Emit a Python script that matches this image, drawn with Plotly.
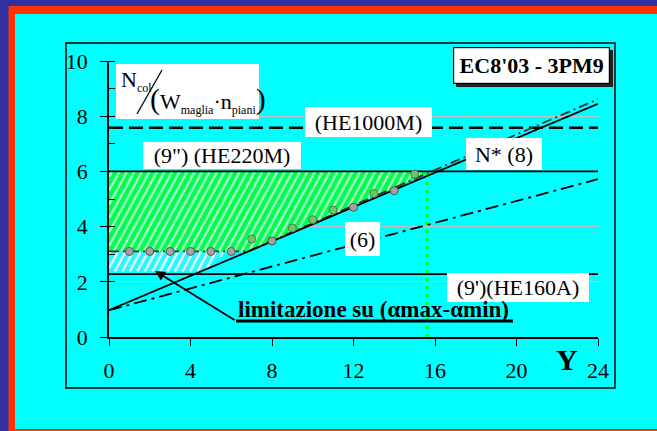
import plotly.graph_objects as go

# ---------------------------------------------------------------- data
storeys = list(range(1, 16))                       # Y
ratio_pts = [3.1, 3.1, 3.1, 3.1, 3.1, 3.1, 3.55, 3.48,
             3.95, 4.25, 4.6, 4.7, 5.2, 5.3, 5.9]   # N_col / (W_maglia * n_piani)

he1000m = 7.58          # (HE1000M)
he220m = 6.0            # (9") (HE220M)
he160a = 2.28           # (9')(HE160A)

nstar_x = [0, 24]       # N* (8)
nstar_y = [0.97, 8.45]
upper_x = [0, 6.8, 24]  # dash-dot bound
upper_y = [3.1, 3.1, 8.62]
eq6_x = [0, 24]         # (6)
eq6_y = [0.97, 5.72]
y_limit = 15.6          # vertical marker

band_x = [0, 4.6, 5.8, 0]        # lower (alpha max - alpha min) band
band_y = [2.38, 2.38, 3.1, 3.1]

x_ticks = [0, 4, 8, 12, 16, 20, 24]
y_ticks = [0, 2, 4, 6, 8, 10]

# ---------------------------------------------------------------- layout helpers
W, H = 657, 431
L, R, T, B = 109, 59, 61, 94
PW, PH = W - L - R, H - T - B
FONT = "Liberation Serif, Times New Roman, DejaVu Serif, serif"


def fx(p):
    return (p - L) / PW


def fy(p):
    return (H - B - p) / PH


def interp(x, xs, ys):
    for i in range(len(xs) - 1):
        if xs[i] <= x <= xs[i + 1]:
            t = (x - xs[i]) / (xs[i + 1] - xs[i])
            return ys[i] + t * (ys[i + 1] - ys[i])
    return ys[-1]


def inv_interp(y, xs, ys):
    for i in range(len(xs) - 1):
        if ys[i] != ys[i + 1] and min(ys[i], ys[i + 1]) <= y <= max(ys[i], ys[i + 1]):
            t = (y - ys[i]) / (ys[i + 1] - ys[i])
            return xs[i] + t * (xs[i + 1] - xs[i])
    return xs[-1]


def region(fig, xs, ys, base):
    xs, ys = list(xs) + [xs[0]], list(ys) + [ys[0]]
    fig.add_trace(go.Scatter(x=xs, y=ys, mode="lines", fill="toself",
                             line=dict(width=0), fillcolor=base,
                             hoverinfo="skip", showlegend=False))


def stripes(fig, xs, ys, color, spacing=0.5):
    """Diagonal hatching clipped to a convex polygon (data units)."""
    n = len(xs)
    k = (PH / 10) / (PW / 24)          # 45 degrees on screen
    cmin = min(y - x * k for x, y in zip(xs, ys))
    cmax = max(y - x * k for x, y in zip(xs, ys))
    lx, ly = [], []
    c = cmin + spacing / 2
    while c < cmax:
        pts = []
        for i in range(n):
            x0, y0 = xs[i], ys[i]
            x1, y1 = xs[(i + 1) % n], ys[(i + 1) % n]
            f0 = y0 - k * x0 - c
            f1 = y1 - k * x1 - c
            if f0 == f1:
                continue
            t = f0 / (f0 - f1)
            if 0 <= t <= 1:
                pts.append((x0 + t * (x1 - x0), y0 + t * (y1 - y0)))
        if len(pts) >= 2:
            pts.sort()
            lx += [pts[0][0], pts[-1][0], None]
            ly += [pts[0][1], pts[-1][1], None]
        c += spacing
    fig.add_trace(go.Scatter(x=lx, y=ly, mode="lines",
                             line=dict(color=color, width=2.4),
                             hoverinfo="skip", showlegend=False))


fig = go.Figure()

# hatched admissible region between the dash-dot bound and HE220M
x_top = inv_interp(he220m, upper_x, upper_y)
green_x = [0, x_top, upper_x[1], 0]
green_y = [he220m, he220m, upper_y[1], upper_y[0]]
region(fig, green_x, green_y, "#00FF4A")
stripes(fig, green_x, green_y, "#9CFFC8")
region(fig, band_x, band_y, "#30F4FF")
stripes(fig, band_x, band_y, "#D8FFFF")

# horizontal section levels
for lvl, dash, wd in [(he1000m, "14px,6px", 2.6), (he220m, "solid", 1.8),
                      (he160a, "solid", 1.8)]:
    fig.add_trace(go.Scatter(x=[0, 24], y=[lvl, lvl], mode="lines",
                             line=dict(color="black", width=wd, dash=dash),
                             hoverinfo="skip", showlegend=False))

# vertical marker
fig.add_trace(go.Scatter(x=[y_limit, y_limit], y=[0, he220m], mode="lines",
                         line=dict(color="#00FF00", width=3, dash="3px,5px"),
                         hoverinfo="skip", showlegend=False))

# N* (8), dash-dot bound and (6)
fig.add_trace(go.Scatter(x=eq6_x, y=eq6_y, mode="lines",
                         line=dict(color="black", width=1.8, dash="13px,5px,3px,5px"),
                         hoverinfo="skip", showlegend=False))
fig.add_trace(go.Scatter(x=upper_x, y=upper_y, mode="lines",
                         line=dict(color="#333333", width=1.8, dash="10px,4px,2px,4px"),
                         hoverinfo="skip", showlegend=False))
fig.add_trace(go.Scatter(x=nstar_x, y=nstar_y, mode="lines",
                         line=dict(color="black", width=1.8),
                         hoverinfo="skip", showlegend=False))

# computed points: inside the hatched area they read green
fills, edges = [], []
for xv, yv in zip(storeys, ratio_pts):
    inside = yv > interp(xv, upper_x, upper_y) + 0.05
    fills.append("#6DC86A" if inside else "#A3A3A3")
    edges.append("#4F7A4F" if inside else "#555555")
fig.add_trace(go.Scatter(x=storeys, y=ratio_pts, mode="markers",
                         marker=dict(size=8, color=fills,
                                     line=dict(color=edges, width=1)),
                         hoverinfo="skip", showlegend=False, cliponaxis=False))

# ---------------------------------------------------------------- shapes
shapes = [
    dict(type="rect", xref="paper", yref="paper", layer="below",
         x0=fx(8.5), x1=fx(W + 5), y0=fy(H + 5), y1=fy(6),
         fillcolor="#FF3300", line=dict(width=0)),
    dict(type="rect", xref="paper", yref="paper", layer="below",
         x0=fx(15), x1=fx(W + 5), y0=fy(429), y1=fy(14),
         fillcolor="#00FFFF", line=dict(width=0)),
    dict(type="rect", xref="paper", yref="paper", layer="below",
         x0=fx(66), x1=fx(615), y0=fy(388), y1=fy(43),
         line=dict(color="black", width=1.5)),
    # white box for the axis quantity
    dict(type="rect", xref="paper", yref="paper", layer="above",
         x0=fx(116), x1=fx(259), y0=fy(119), y1=fy(64),
         fillcolor="white", line=dict(width=0)),
    dict(type="line", xref="paper", yref="paper", layer="above",
         x0=fx(137), y0=fy(114), x1=fx(162), y1=fy(70),
         line=dict(color="black", width=1.3)),
    # shadow under the title box
    dict(type="rect", xref="paper", yref="paper", layer="above",
         x0=fx(456), x1=fx(613), y0=fy(87), y1=fy(50),
         fillcolor="#222222", line=dict(width=0)),
    # underline of the note
    dict(type="line", xref="paper", yref="paper", layer="above",
         x0=fx(236), x1=fx(513), y0=fy(321), y1=fy(321),
         line=dict(color="black", width=3)),
]


def box(text, cx, cy, w, h, size=22, bold=False, border=0):
    return dict(text=f"<b>{text}</b>" if bold else text,
                xref="paper", yref="paper", x=fx(cx), y=fy(cy),
                xanchor="center", yanchor="middle", showarrow=False,
                bgcolor="white", width=w, height=h, borderpad=0,
                bordercolor="black", borderwidth=border,
                font=dict(family=FONT, size=size, color="black"))


SUB = "<sub><span style='font-size:12px'>{}</span></sub>"
PAREN = "<span style='font-size:30px'>{}</span>"

annotations = [
    box("(HE1000M)", 368.5, 122, 127, 30),
    box("(9\") (HE220M)", 222, 155.5, 158, 27),
    box("N* (8)", 504, 154, 76, 32),
    box("(6)", 362.5, 239, 35, 34),
    box("(9')(HE160A)", 518, 287.5, 142, 29),
    box("EC8'03 - 3PM9", 531.5, 65.5, 155, 35, size=22, bold=True, border=1.2),
    dict(text="N" + SUB.format("col"), xref="paper", yref="paper",
         x=fx(119), y=fy(81), xanchor="left", yanchor="middle", showarrow=False,
         font=dict(family=FONT, size=22, color="black")),
    dict(text=PAREN.format("(") + "W" + SUB.format("maglia") + "·n"
              + SUB.format("piani") + PAREN.format(")"),
         xref="paper", yref="paper", x=fx(148), y=fy(100), xanchor="left",
         yanchor="middle", showarrow=False,
         font=dict(family=FONT, size=22, color="black")),
    dict(text="<b>limitazione su (αmax-αmin)</b>", xref="paper", yref="paper",
         x=fx(236), y=fy(309), xanchor="left", yanchor="middle", showarrow=False,
         font=dict(family=FONT, size=23, color="black")),
    dict(text="<b>Y</b>", xref="paper", yref="paper", x=fx(567), y=fy(359),
         xanchor="center", yanchor="middle", showarrow=False,
         font=dict(family=FONT, size=30, color="black")),
    # leader arrow to the lower band
    dict(text="", x=(155 - L) / PW * 24, y=(H - B - 271) / PH * 10,
         xref="x", yref="y", ax=(236 - L) / PW * 24, ay=(H - B - 321) / PH * 10,
         axref="x", ayref="y", showarrow=True, arrowhead=2, arrowsize=1.1,
         arrowwidth=1.8, arrowcolor="black"),
]

fig.update_layout(
    width=W, height=H,
    margin=dict(l=L, r=R, t=T, b=B, pad=0),
    paper_bgcolor="#3131A3",
    plot_bgcolor="rgba(0,0,0,0)",
    shapes=shapes,
    annotations=annotations,
    font=dict(family=FONT, size=22, color="black"),
    xaxis=dict(range=[0, 24], tickvals=x_ticks, ticks="outside", ticklen=7,
               tickwidth=1.3, tickcolor="black", showline=True, linecolor="black",
               linewidth=1.5, showgrid=False, zeroline=False,
               ticklabelstandoff=6, tickfont=dict(family=FONT, size=22)),
    yaxis=dict(range=[0, 10], tickvals=y_ticks, ticks="outside", ticklen=7,
               tickwidth=1.3, tickcolor="black", showline=True, linecolor="black",
               linewidth=1.5, showgrid=True, gridcolor="#C4C4C4", gridwidth=1,
               zeroline=False, ticklabelstandoff=8,
               tickfont=dict(family=FONT, size=22),
               minor=dict(dtick=1, ticks="inside", ticklen=6, tickcolor="black",
                          tickwidth=1.2, showgrid=False)),
)

fig.write_html("out.html")
